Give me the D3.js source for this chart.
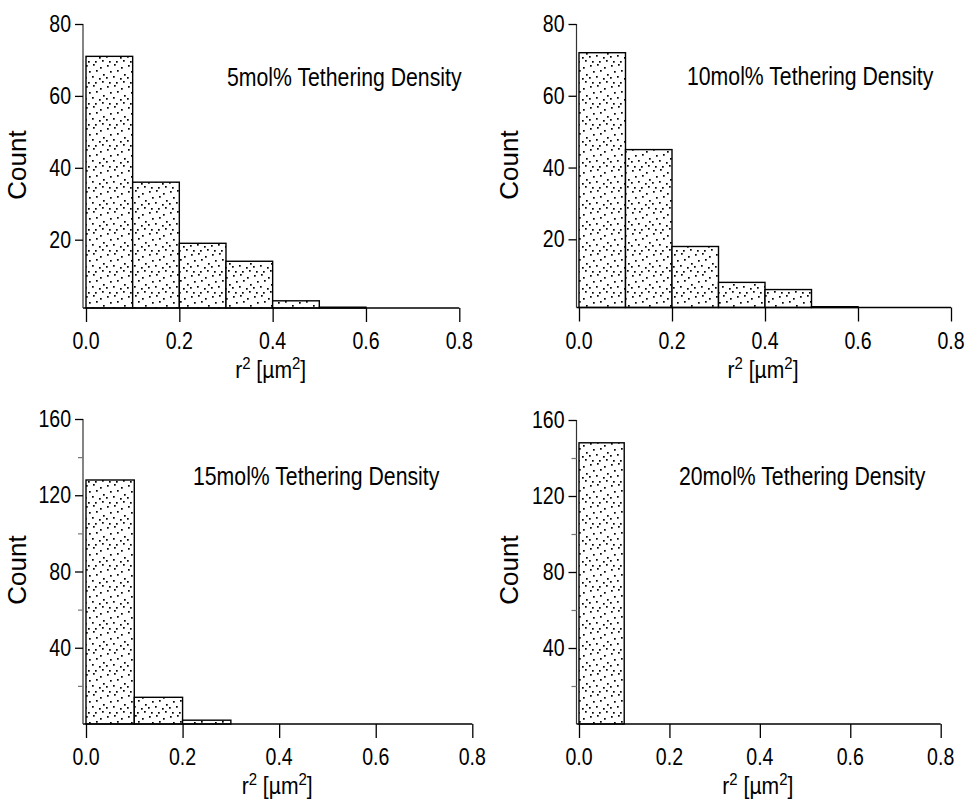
<!DOCTYPE html>
<html><head><meta charset="utf-8">
<script src="https://cdn.jsdelivr.net/npm/d3@7"></script>
<style>body{margin:0;background:#fff}svg{display:block}</style>
</head><body><svg id="c" width="967" height="799"></svg>
<script>
// ---- data ----
const binEdges = [0.0, 0.1, 0.2, 0.3, 0.4, 0.5, 0.6, 0.7, 0.8];
const xTickValues = [0.0, 0.2, 0.4, 0.6, 0.8];
const counts5mol  = [71, 36, 19, 14, 3, 1, 0, 0];
const counts10mol = [72, 45, 18, 8, 6, 1, 0, 0];
const counts15mol = [128, 14, 2, 0, 0, 0, 0, 0];
const counts20mol = [148, 0, 0, 0, 0, 0, 0, 0];
const yTicksTop = [20, 40, 60, 80];
const yTicksBottom = [40, 80, 120, 160];
const yMinorBottom = [20, 60, 100, 140];
const panelTitles = ["5mol% Tethering Density", "10mol% Tethering Density", "15mol% Tethering Density", "20mol% Tethering Density"];
const yLabel = "Count";

// ---- layout (styles/positions) ----
const panels = [
  {counts: counts5mol,  title: panelTitles[0], yDom: [1, 80],  yRange: [308, 24],   xRange: [86, 459.3], axX: 83,   ticks: yTicksTop, minor: [], tx: 227, ty: 86, cx: 17, cy: 165},
  {counts: counts10mol, title: panelTitles[1], yDom: [1, 80],  yRange: [307.5, 24], xRange: [579, 951],  axX: 576.5, ticks: yTicksTop, minor: [], tx: 687, ty: 85, cx: 509, cy: 165},
  {counts: counts15mol, title: panelTitles[2], yDom: [0, 160], yRange: [724, 419],  xRange: [86, 472.3], axX: 83,   ticks: yTicksBottom, minor: yMinorBottom, tx: 193, ty: 485, cx: 17, cy: 570},
  {counts: counts20mol, title: panelTitles[3], yDom: [0, 160], yRange: [724, 420],  xRange: [579, 940.7], axX: 576.5, ticks: yTicksBottom, minor: yMinorBottom, tx: 679, ty: 485, cx: 509, cy: 570}
];

const svg = d3.select("#c");
const FONT = "'Liberation Sans', Arial, Helvetica, sans-serif";

// stipple pattern
const defs = svg.append("defs");
const pat = defs.append("pattern").attr("id", "dots").attr("patternUnits", "userSpaceOnUse")
  .attr("width", 21).attr("height", 21);
pat.append("rect").attr("width", 21).attr("height", 21).attr("fill", "#fff");
const dotPos = [[2,2],[9,1],[16,4],[5,8],[12,7],[19,11],[1,14],[8,13],[15,15],[4,19],[11,19],[18,18]];
dotPos.forEach(p => pat.append("rect").attr("x", p[0]).attr("y", p[1]).attr("width", 1.7).attr("height", 1.7).attr("fill", "#000"));

function stext(g, x, y, str, size, anchor, sx) {
  return g.append("text").attr("transform", `translate(${x},${y}) scale(${sx},1)`)
    .attr("font-family", FONT).attr("font-size", size).attr("text-anchor", anchor).attr("fill", "#000").text(str);
}

panels.forEach(p => {
  const g = svg.append("g");
  const x = d3.scaleLinear().domain([binEdges[0], binEdges[binEdges.length - 1]]).range(p.xRange);
  const y = d3.scaleLinear().domain(p.yDom).range(p.yRange);
  const axisY = p.yRange[0];

  // bars
  const bins = p.counts.map((c, i) => ({x0: binEdges[i], x1: binEdges[i + 1], c})).filter(d => d.c > 0);
  g.selectAll("rect.bar").data(bins).enter().append("rect").attr("class", "bar")
    .attr("x", d => x(d.x0)).attr("width", d => x(d.x1) - x(d.x0))
    .attr("y", d => Math.min(y(d.c), axisY - 0.8))
    .attr("height", d => Math.max(axisY - y(d.c), 0.8))
    .attr("fill", "url(#dots)").attr("stroke", "#000").attr("stroke-width", 1.4);

  // x axis
  const xAxis = d3.axisBottom(x).tickValues(xTickValues).tickSize(14).tickFormat("");
  const xg = g.append("g").attr("transform", `translate(0,${axisY})`).call(xAxis);
  xg.select(".domain").remove();
  xg.selectAll(".tick line").attr("stroke", "#000").attr("stroke-width", 1.3);
  g.append("line").attr("x1", p.axX).attr("x2", x(0.8)).attr("y1", axisY).attr("y2", axisY)
    .attr("stroke", "#000").attr("stroke-width", 1.6);
  xTickValues.forEach(v => stext(g, x(v), axisY + 41, d3.format(".1f")(v), 23, "middle", 0.85));

  // y axis
  g.append("line").attr("x1", p.axX).attr("x2", p.axX).attr("y1", y(p.ticks[p.ticks.length - 1])).attr("y2", axisY)
    .attr("stroke", "#333").attr("stroke-width", 1.2);
  const yAxis = d3.axisLeft(y).tickValues(p.ticks).tickSize(8).tickFormat("");
  const yg = g.append("g").attr("transform", `translate(${p.axX},0)`).call(yAxis);
  yg.select(".domain").remove();
  yg.selectAll(".tick line").attr("stroke", "#000").attr("stroke-width", 1.3);
  if (p.minor.length) {
    const ym = d3.axisLeft(y).tickValues(p.minor).tickSize(5).tickFormat("");
    const ymg = g.append("g").attr("transform", `translate(${p.axX},0)`).call(ym);
    ymg.select(".domain").remove();
    ymg.selectAll(".tick line").attr("stroke", "#777").attr("stroke-width", 1.2);
  }
  p.ticks.forEach(v => stext(g, p.axX - 12, y(v) + 8, String(v), 23, "end", 0.85));

  // y label
  g.append("text").attr("transform", `translate(${p.cx + 9},${p.cy}) rotate(-90)`)
    .attr("font-family", FONT).attr("font-size", 26).attr("text-anchor", "middle").text(yLabel);

  // x label  r² [µm²]
  const xl = g.append("text").attr("transform", `translate(${(x(0) + x(0.8)) / 2 - 2},${axisY + 70}) scale(0.88,1)`)
    .attr("font-family", FONT).attr("font-size", 24).attr("text-anchor", "middle");
  xl.append("tspan").text("r");
  xl.append("tspan").attr("font-size", 17).attr("dy", -9).text("2");
  xl.append("tspan").attr("dy", 9).text(" [µm");
  xl.append("tspan").attr("font-size", 17).attr("dy", -9).text("2");
  xl.append("tspan").attr("dy", 9).text("]");

  // title
  stext(g, p.tx, p.ty, p.title, 25, "start", 0.85);
});
</script>
</body></html>
